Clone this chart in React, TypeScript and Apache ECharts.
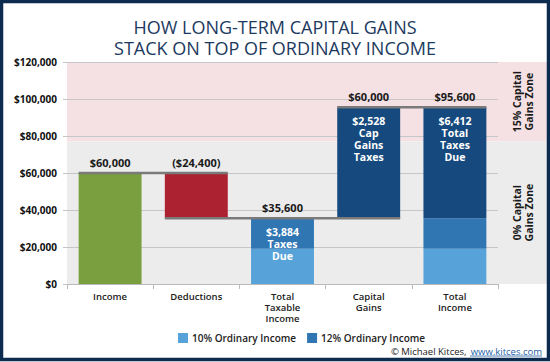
import React, { useEffect, useRef } from "react";
import * as echarts from "echarts";

const categories = ["Income", "Deductions", "Total\nTaxable\nIncome", "Capital\nGains", "Total\nIncome"];
const baseValues = [0, 35600, 0, 35600, 0];
const tenPctValues: (number | null)[] = [null, null, 19050, null, 19050];
const twelvePctValues: (number | null)[] = [null, null, 16550, null, 16550];
const mainValues: (number | null)[] = [60000, 24400, null, 60000, 60000];
const mainColors = ["#7a9f3e", "#ad2231", "#164a7e", "#164a7e", "#164a7e"];
const topLabels = ["$60,000", "($24,400)", "$35,600", "$60,000", "$95,600"];
const innerLabels = ["", "", "$3,884\nTaxes\nDue", "$2,528\nCap\nGains\nTaxes", "$6,412\nTotal\nTaxes\nDue"];
// [from category, to category, level]
const connectors = [
  [0, 1, 60000],
  [1, 3, 35600],
  [3, 4, 95600],
];
const zeroPctZoneTop = 77200;
const yMax = 120000;
const yInterval = 20000;

const FONT = "'Open Sans', 'Noto Sans', sans-serif";
const BAR_RATIO = 0.73;

export default function App() {
  const ref = useRef<HTMLDivElement>(null);
  useEffect(() => {
    if (!ref.current) return;
    const chart = echarts.init(ref.current, undefined, { renderer: "svg" });
    const totals = categories.map(
      (_, i) => (baseValues[i] || 0) + (tenPctValues[i] || 0) + (twelvePctValues[i] || 0) + (mainValues[i] || 0)
    );
    const GRID_LEFT = 67;
    const GRID_RIGHT = 52;
    const option: any = {
      animation: false,
      backgroundColor: "#ffffff",
      title: {
        text: "HOW LONG-TERM CAPITAL GAINS\nSTACK ON TOP OF ORDINARY INCOME",
        left: "center",
        top: 11,
        textStyle: { fontFamily: FONT, fontSize: 18, fontWeight: 500, color: "#1c3a5e", lineHeight: 21 },
      },
      grid: { left: GRID_LEFT, right: GRID_RIGHT, top: 62, bottom: 78 },
      legend: {
        left: 173,
        top: 328,
        itemWidth: 10,
        itemHeight: 10,
        itemGap: 11,
        itemStyle: { borderWidth: 0 },
        icon: "rect",
        data: ["10% Ordinary Income", "12% Ordinary Income"],
        textStyle: { fontFamily: FONT, fontSize: 10, fontWeight: 600, color: "#222", padding: [0, 0, 0, -1] },
      },
      xAxis: {
        type: "category",
        data: categories,
        axisLine: { lineStyle: { color: "#bbbbbb" } },
        axisTick: { show: true, length: 5, lineStyle: { color: "#bbbbbb" } },
        axisLabel: { fontFamily: FONT, fontSize: 9.5, fontWeight: 600, color: "#222", lineHeight: 11, margin: 7 },
      },
      yAxis: {
        type: "value",
        min: 0,
        max: yMax,
        interval: yInterval,
        axisLine: { show: false },
        axisTick: { show: true, length: 4, lineStyle: { color: "#c4c4c4" } },
        splitLine: { lineStyle: { color: "#c6c6c6", width: 1 } },
        axisLabel: {
          fontFamily: FONT,
          fontSize: 10,
          fontWeight: 700,
          color: "#111",
          margin: 10,
          formatter: (v: number) => "$" + v.toLocaleString("en-US"),
        },
      },
      series: [
        {
          name: "base",
          type: "bar",
          stack: "w",
          barWidth: BAR_RATIO * 100 + "%",
          itemStyle: { color: "transparent" },
          data: baseValues,
          z: 2,
        },
        {
          name: "10% Ordinary Income",
          type: "bar",
          stack: "w",
          itemStyle: { color: "#57a3d9" },
          data: tenPctValues.map((v) => (v == null ? "-" : v)),
          z: 2,
        },
        {
          name: "12% Ordinary Income",
          type: "bar",
          stack: "w",
          itemStyle: { color: "#3076b3" },
          data: twelvePctValues.map((v) => (v == null ? "-" : v)),
          z: 2,
        },
        {
          name: "main",
          type: "bar",
          stack: "w",
          data: mainValues.map((v, i) => (v == null ? "-" : { value: v, itemStyle: { color: mainColors[i] } })),
          z: 2,
        },
        {
          name: "connectors",
          type: "custom",
          z: 5,
          encode: { x: [0, 1], y: 2 },
          data: connectors,
          renderItem: (params: any, api: any) => {
            const from = api.value(0);
            const to = api.value(1);
            const v = api.value(2);
            const bw = api.size([1, 0])[0] * BAR_RATIO;
            const p1 = api.coord([from, v]);
            const p2 = api.coord([to, v]);
            return {
              type: "line",
              shape: { x1: p1[0] - bw / 2, y1: p1[1], x2: p2[0] + bw / 2, y2: p2[1] },
              style: { stroke: "#7a7a7a", lineWidth: 2.5 },
            };
          },
        },
        {
          name: "labels",
          type: "custom",
          z: 6,
          encode: { x: 0, y: 1 },
          data: totals.map((t, i) => [i, t]),
          renderItem: (params: any, api: any) => {
            const i = params.dataIndex;
            const p = api.coord([api.value(0), api.value(1)]);
            const children: any[] = [
              {
                type: "text",
                x: p[0],
                y: p[1] - 11,
                style: {
                  text: topLabels[i],
                  fill: "#1a1a1a",
                  font: `700 11px ${FONT}`,
                  align: "center",
                  verticalAlign: "middle",
                },
              },
            ];
            if (innerLabels[i]) {
              innerLabels[i].split("\n").forEach((line, k) => {
                children.push({
                  type: "text",
                  x: p[0],
                  y: p[1] + 14 + k * 12,
                  style: {
                    text: line,
                    fill: "#ffffff",
                    font: `700 10.5px ${FONT}`,
                    align: "center",
                    verticalAlign: "middle",
                  },
                });
              });
            }
            return { type: "group", children };
          },
        },
      ],
    };
    chart.setOption(option);

    const yZone = chart.convertToPixel({ yAxisIndex: 0 }, zeroPctZoneTop) as number;
    const yTop = chart.convertToPixel({ yAxisIndex: 0 }, yMax) as number;
    const yZero = chart.convertToPixel({ yAxisIndex: 0 }, 0) as number;
    const bandRight = 547;
    chart.setOption({
      graphic: [
        {
          type: "rect",
          z: -10,
          shape: { x: GRID_LEFT, y: yTop, width: bandRight - GRID_LEFT, height: yZone - yTop },
          style: { fill: "#f5e1e3" },
        },
        {
          type: "rect",
          z: -10,
          shape: { x: GRID_LEFT, y: yZone, width: bandRight - GRID_LEFT, height: yZero - yZone },
          style: { fill: "#ececec" },
        },
        {
          type: "text",
          x: 523,
          y: (yTop + yZone) / 2,
          rotation: Math.PI / 2,
          style: {
            text: "15% Capital\nGains Zone",
            fill: "#1a1a1a",
            font: `700 10.5px ${FONT}`,
            lineHeight: 12,
            align: "center",
            verticalAlign: "middle",
          },
        },
        {
          type: "text",
          x: 523,
          y: (yZone + yZero) / 2,
          rotation: Math.PI / 2,
          style: {
            text: "0% Capital\nGains Zone",
            fill: "#1a1a1a",
            font: `700 10.5px ${FONT}`,
            lineHeight: 12,
            align: "center",
            verticalAlign: "middle",
          },
        },
        {
          type: "text",
          x: 469,
          y: 351,
          style: {
            text: "© Michael Kitces, ",
            fill: "#1a1a1a",
            font: `500 9.5px ${FONT}`,
            align: "right",
            verticalAlign: "middle",
          },
        },
        {
          type: "text",
          x: 542,
          y: 351,
          style: {
            text: "www.kitces.com",
            fill: "#1f5fa6",
            font: `500 9.5px ${FONT}`,
            align: "right",
            verticalAlign: "middle",
          },
        },
        {
          type: "line",
          shape: { x1: 470, y1: 356, x2: 542, y2: 356 },
          style: { stroke: "#1f5fa6", lineWidth: 0.8 },
        },
        {
          type: "rect",
          z: 100,
          shape: { x: 1.5, y: 1.5, width: 547, height: 358 },
          style: { fill: "none", stroke: "#0d2b4e", lineWidth: 3.5 },
        },
      ],
    });
    return () => chart.dispose();
  }, []);
  return (
    <div style={{ position: "absolute", left: 0, top: 0, width: 550, height: 362 }}>
      <div ref={ref} style={{ width: 550, height: 362 }} />
    </div>
  );
}
